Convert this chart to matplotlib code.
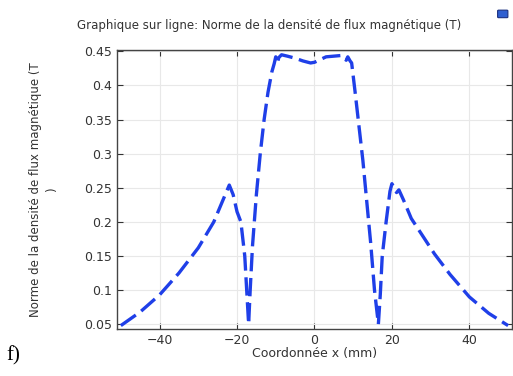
import matplotlib
matplotlib.use("Agg")
import matplotlib.pyplot as plt
from matplotlib.patches import FancyBboxPatch

x_mm = [-50, -45, -40, -35, -30, -26, -22, -21, -20, -19, -18, -17.3, -17, -16.6, -16, -15, -14, -13, -12, -11, -10.4,
        -10, -9.6, -9.2, -8.5, -7, -5, -3, -1, 0, 1.5, 3, 5, 7, 7.6, 8.2, 8.6, 9.2, 9.6,
        10.5, 11.5, 12.5, 13.5, 14.5, 15.5, 16.2, 16.5, 17, 17.5, 18.5, 19.5, 20, 20.6, 21.2, 21.8,
        23, 25, 28, 31, 35, 40, 45, 50]
b_norm = [0.048, 0.068, 0.093, 0.125, 0.162, 0.2, 0.254, 0.24, 0.215, 0.2, 0.15, 0.08, 0.05, 0.1, 0.165, 0.24,
          0.3, 0.35, 0.39, 0.42, 0.432, 0.442, 0.433, 0.441, 0.445, 0.443, 0.44, 0.436, 0.433, 0.434, 0.438, 0.442, 0.443,
          0.444, 0.44, 0.437, 0.442, 0.436, 0.433,
          0.39, 0.34, 0.29, 0.23, 0.17, 0.1, 0.065, 0.05, 0.094, 0.15, 0.2, 0.245, 0.256, 0.25, 0.243, 0.247,
          0.232, 0.205, 0.179, 0.153, 0.123, 0.09, 0.066, 0.048]

x_ticks = [-40, -20, 0, 20, 40]
y_ticks = [0.05, 0.1, 0.15, 0.2, 0.25, 0.3, 0.35, 0.4, 0.45]
y_tick_labels = ["0.05", "0.1", "0.15", "0.2", "0.25", "0.3", "0.35", "0.4", "0.45"]

fig = plt.figure(figsize=(5.13, 3.76), dpi=100)
ax = fig.add_axes([0.228, 0.125, 0.770, 0.742])
ax.plot(x_mm, b_norm, color="#1f3fe8", lw=2.4, dashes=(5.5, 2.0), solid_capstyle="butt")
ax.set_xlim(-51, 51)
ax.set_ylim(0.043, 0.452)
ax.set_xticks(x_ticks)
ax.set_yticks(y_ticks)
ax.set_yticklabels(y_tick_labels)
ax.grid(True, color="#e8e8e8", lw=0.8)
ax.tick_params(direction="in", top=True, right=True, labelsize=9, colors="#333333", length=4)
for s in ax.spines.values():
    s.set_color("#444444")
    s.set_linewidth(1.0)
ax.set_xlabel("Coordonnée x (mm)", fontsize=9, color="#333333", labelpad=0)
ax.set_ylabel("Norme de la densité de flux magnétique (T\n)", fontsize=8.5, color="#333333", labelpad=19, linespacing=1.3)
fig.text(0.525, 0.933, "Graphique sur ligne: Norme de la densité de flux magnétique (T)", ha="center", va="center",
         fontsize=8.5, color="#333333")
fig.text(0.012, 0.055, "f)", fontsize=15, family="Liberation Serif", ha="left", va="center")
icon = FancyBboxPatch((0.972, 0.955), 0.016, 0.016, boxstyle="round,pad=0.002", transform=fig.transFigure,
                      facecolor="#2f5fd0", edgecolor="#1a2f80", lw=0.8)
fig.patches.append(icon)
fig.savefig("out.png", dpi=100)
